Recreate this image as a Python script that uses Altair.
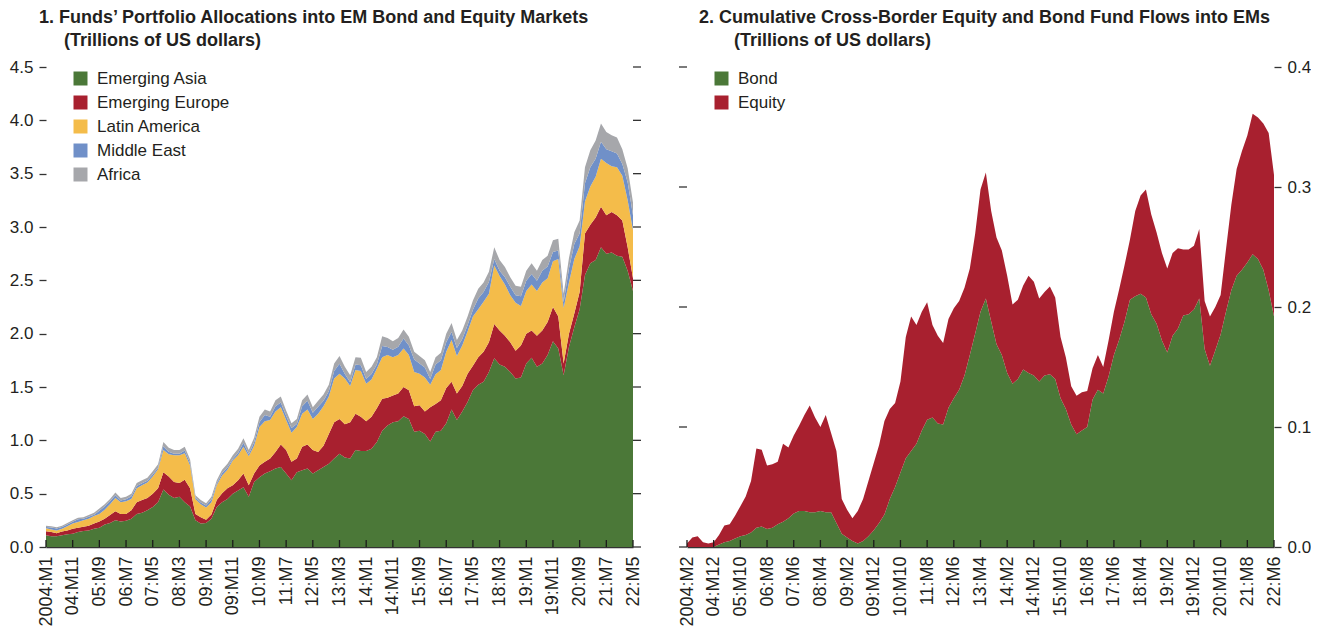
import altair as alt
import pandas as pd
import numpy as np

# ---------------- shared categories ----------------
left_tick_labels = ["2004:M1", "04:M11", "05:M9", "06:M7", "07:M5", "08:M3", "09:M1", "09:M11",
                    "10:M9", "11:M7", "12:M5", "13:M3", "14:M1", "14:M11", "15:M9", "16:M7",
                    "17:M5", "18:M3", "19:M1", "19:M11", "20:M9", "21:M7", "22:M5"]
right_tick_labels = ["2004:M2", "04:M12", "05:M10", "06:M8", "07:M6", "08:M4", "09:M2", "09:M12",
                     "10:M10", "11:M8", "12:M6", "13:M4", "14:M2", "14:M12", "15:M10", "16:M8",
                     "17:M6", "18:M4", "19:M2", "19:M12", "20:M10", "21:M8", "22:M6"]
months = list(range(0, 221, 2))          # months since first observation (bimonthly readings)
tick_months = list(range(0, 221, 10))

regions = ["Emerging Asia", "Emerging Europe", "Latin America", "Middle East", "Africa"]
region_colors = ["#4B7838", "#A8202F", "#F4BC4A", "#7090C8", "#A6A7AB"]
flow_types = ["Bond", "Equity"]
flow_colors = ["#4B7838", "#A8202F"]

# ---------------- panel 1: upper edges of stacked layers (trillions US$) ----------------
asia_top = [0.11, 0.10, 0.10, 0.11, 0.12, 0.125, 0.14, 0.15, 0.155, 0.17,
            0.18, 0.21, 0.225, 0.25, 0.24, 0.245, 0.265, 0.31, 0.32, 0.345,
            0.375, 0.42, 0.54, 0.49, 0.46, 0.47, 0.42, 0.38, 0.25, 0.22,
            0.225, 0.265, 0.375, 0.42, 0.45, 0.50, 0.53, 0.56, 0.47, 0.61,
            0.655, 0.69, 0.71, 0.735, 0.75, 0.69, 0.625, 0.70, 0.72, 0.735,
            0.69, 0.72, 0.75, 0.78, 0.83, 0.875, 0.84, 0.83, 0.91, 0.90,
            0.90, 0.92, 0.985, 1.09, 1.14, 1.17, 1.18, 1.225, 1.20, 1.08,
            1.09, 1.06, 0.99, 1.08, 1.09, 1.16, 1.29, 1.19, 1.27, 1.36,
            1.47, 1.52, 1.55, 1.64, 1.77, 1.71, 1.69, 1.64, 1.58, 1.59,
            1.72, 1.775, 1.69, 1.72, 1.80, 1.93, 1.86, 1.61, 1.875, 2.06,
            2.23, 2.55, 2.66, 2.69, 2.81, 2.75, 2.76, 2.73, 2.72, 2.59,
            2.40]
europe_top = [0.147, 0.14, 0.13, 0.145, 0.155, 0.17, 0.18, 0.19, 0.20, 0.22,
              0.24, 0.265, 0.30, 0.335, 0.31, 0.31, 0.345, 0.42, 0.44, 0.46,
              0.50, 0.55, 0.70, 0.66, 0.61, 0.60, 0.63, 0.55, 0.31, 0.28,
              0.255, 0.305, 0.44, 0.505, 0.55, 0.58, 0.625, 0.69, 0.58, 0.69,
              0.765, 0.80, 0.83, 0.89, 0.96, 0.91, 0.80, 0.83, 0.94, 0.96,
              0.91, 0.89, 0.95, 1.06, 1.17, 1.20, 1.15, 1.17, 1.25, 1.22,
              1.18, 1.22, 1.30, 1.39, 1.40, 1.42, 1.44, 1.50, 1.47, 1.32,
              1.33, 1.27, 1.31, 1.34, 1.375, 1.49, 1.55, 1.44, 1.51, 1.625,
              1.70, 1.78, 1.83, 1.92, 2.09, 2.03, 1.98, 1.92, 1.84, 1.89,
              2.0, 2.03, 1.98, 2.03, 2.11, 2.25, 2.16, 1.72, 2.0, 2.19,
              2.39, 2.94, 3.02, 3.09, 3.19, 3.11, 3.14, 3.11, 3.06, 2.81,
              2.52]
latam_top = [0.175, 0.165, 0.155, 0.17, 0.195, 0.22, 0.235, 0.25, 0.265, 0.29,
             0.31, 0.35, 0.40, 0.46, 0.42, 0.43, 0.45, 0.55, 0.58, 0.605,
             0.66, 0.73, 0.91, 0.87, 0.86, 0.86, 0.88, 0.765, 0.45, 0.40,
             0.37, 0.42, 0.58, 0.67, 0.725, 0.81, 0.86, 0.94, 0.85, 0.95,
             1.125, 1.18, 1.19, 1.27, 1.31, 1.19, 1.07, 1.125, 1.25, 1.29,
             1.20, 1.25, 1.32, 1.41, 1.58, 1.625, 1.58, 1.51, 1.66, 1.65,
             1.53, 1.57, 1.67, 1.78, 1.80, 1.78, 1.80, 1.86, 1.80, 1.64,
             1.625, 1.59, 1.52, 1.62, 1.66, 1.83, 1.94, 1.79, 1.89, 2.02,
             2.16, 2.23, 2.30, 2.375, 2.64, 2.54, 2.46, 2.36, 2.29, 2.26,
             2.40, 2.46, 2.40, 2.48, 2.52, 2.68, 2.70, 2.24, 2.48, 2.70,
             2.82, 3.24, 3.38, 3.47, 3.64, 3.60, 3.57, 3.56, 3.48, 3.25,
             2.97]
total_top = [0.20, 0.195, 0.185, 0.20, 0.225, 0.25, 0.275, 0.28, 0.30, 0.32,
             0.36, 0.40, 0.45, 0.51, 0.46, 0.47, 0.50, 0.60, 0.625, 0.65,
             0.71, 0.775, 0.985, 0.93, 0.91, 0.91, 0.94, 0.82, 0.485, 0.44,
             0.41, 0.47, 0.625, 0.725, 0.78, 0.86, 0.92, 1.02, 0.91, 1.025,
             1.22, 1.29, 1.27, 1.375, 1.41, 1.28, 1.16, 1.20, 1.375, 1.43,
             1.31, 1.37, 1.43, 1.52, 1.72, 1.79, 1.69, 1.61, 1.78, 1.775,
             1.64, 1.69, 1.78, 1.975, 1.96, 1.93, 1.96, 2.04, 1.97, 1.83,
             1.79, 1.75, 1.64, 1.78, 1.82, 2.0, 2.10, 1.94, 2.03, 2.16,
             2.31, 2.42, 2.48, 2.58, 2.81, 2.69, 2.625, 2.53, 2.45, 2.44,
             2.59, 2.66, 2.59, 2.69, 2.73, 2.875, 2.89, 2.375, 2.71, 2.95,
             3.06, 3.56, 3.72, 3.81, 3.97, 3.89, 3.86, 3.84, 3.73, 3.55,
             3.23]
africa_band = [0.012, 0.012, 0.012, 0.013, 0.013, 0.014, 0.015, 0.015, 0.016, 0.017,
               0.02, 0.02, 0.022, 0.025, 0.023, 0.023, 0.024, 0.027, 0.028, 0.03,
               0.03, 0.032, 0.04, 0.036, 0.035, 0.035, 0.036, 0.032, 0.022, 0.022,
               0.022, 0.025, 0.03, 0.032, 0.034, 0.036, 0.038, 0.042, 0.04, 0.042,
               0.05, 0.052, 0.05, 0.055, 0.056, 0.05, 0.045, 0.048, 0.055, 0.058,
               0.052, 0.055, 0.058, 0.06, 0.07, 0.072, 0.068, 0.065, 0.07, 0.07,
               0.066, 0.068, 0.07, 0.09, 0.085, 0.08, 0.082, 0.085, 0.08, 0.072,
               0.07, 0.068, 0.065, 0.07, 0.07, 0.08, 0.085, 0.075, 0.08, 0.082,
               0.085, 0.09, 0.09, 0.095, 0.11, 0.1, 0.095, 0.09, 0.09, 0.09,
               0.095, 0.1, 0.095, 0.1, 0.1, 0.11, 0.11, 0.08, 0.1, 0.11,
               0.12, 0.15, 0.16, 0.17, 0.17, 0.16, 0.15, 0.15, 0.14, 0.13,
               0.12]

# ---------------- panel 2: bond and bond+equity cumulative flows (trillions US$) ----------------
bond_flows = [0.0, 0.0, 0.0, 0.0, 0.0, 0.0, 0.002, 0.004, 0.005, 0.007,
              0.009, 0.010, 0.012, 0.016, 0.017, 0.015, 0.016, 0.019, 0.021, 0.024,
              0.028, 0.030, 0.030, 0.029, 0.029, 0.030, 0.029, 0.029, 0.020, 0.011,
              0.008, 0.005, 0.003, 0.005, 0.009, 0.014, 0.020, 0.027, 0.040, 0.050,
              0.062, 0.074, 0.080, 0.086, 0.097, 0.106, 0.108, 0.103, 0.102, 0.116,
              0.124, 0.131, 0.143, 0.160, 0.178, 0.196, 0.207, 0.188, 0.169, 0.160,
              0.145, 0.136, 0.140, 0.148, 0.145, 0.143, 0.138, 0.143, 0.144, 0.140,
              0.124, 0.115, 0.102, 0.094, 0.097, 0.100, 0.123, 0.131, 0.128, 0.142,
              0.160, 0.173, 0.188, 0.206, 0.209, 0.211, 0.208, 0.194, 0.186, 0.172,
              0.162, 0.176, 0.182, 0.193, 0.194, 0.198, 0.207, 0.165, 0.151, 0.164,
              0.177, 0.196, 0.214, 0.226, 0.231, 0.237, 0.244, 0.240, 0.231, 0.214,
              0.192]
all_flows = [0.003, 0.008, 0.009, 0.004, 0.003, 0.004, 0.010, 0.018, 0.019, 0.026,
             0.034, 0.042, 0.055, 0.082, 0.081, 0.068, 0.069, 0.071, 0.086, 0.083,
             0.093, 0.101, 0.110, 0.118, 0.108, 0.100, 0.110, 0.095, 0.080, 0.040,
             0.031, 0.024, 0.030, 0.040, 0.055, 0.070, 0.085, 0.105, 0.115, 0.120,
             0.138, 0.175, 0.192, 0.185, 0.196, 0.204, 0.185, 0.176, 0.170, 0.190,
             0.199, 0.205, 0.216, 0.232, 0.261, 0.298, 0.312, 0.280, 0.258, 0.247,
             0.226, 0.202, 0.206, 0.218, 0.226, 0.221, 0.207, 0.2125, 0.217, 0.208,
             0.175, 0.158, 0.134, 0.126, 0.129, 0.130, 0.149, 0.160, 0.150, 0.172,
             0.196, 0.215, 0.235, 0.256, 0.280, 0.293, 0.298, 0.277, 0.262, 0.245,
             0.232, 0.245, 0.249, 0.248, 0.248, 0.251, 0.265, 0.205, 0.192, 0.200,
             0.210, 0.248, 0.285, 0.315, 0.330, 0.343, 0.361, 0.358, 0.353, 0.345,
             0.310]

left_yticks = [0.0, 0.5, 1.0, 1.5, 2.0, 2.5, 3.0, 3.5, 4.0, 4.5]
right_yticks = [0.0, 0.1, 0.2, 0.3, 0.4]

# ---------------- tables ----------------
a_top = np.array(asia_top)
e_top = np.array(europe_top)
l_top = np.array(latam_top)
t_top = np.array(total_top)
afr = np.array(africa_band)
series_left = [a_top,
               np.clip(e_top - a_top, 0, None),
               np.clip(l_top - e_top, 0, None),
               np.clip(t_top - l_top - afr, 0, None),
               afr]
rows = []
for k, (name, vals) in enumerate(zip(regions, series_left)):
    for m, v in zip(months, vals):
        rows.append({"t": m, "value": float(v), "series": name, "k": k})
df_left = pd.DataFrame(rows)

b = np.array(bond_flows)
eq = np.clip(np.array(all_flows) - b, 0, None)
rows = []
for k, (name, vals) in enumerate(zip(flow_types, [b, eq])):
    for m, v in zip(months, vals):
        rows.append({"t": m, "value": float(v), "series": name, "k": k})
df_right = pd.DataFrame(rows)

xt_df = pd.DataFrame({"t": tick_months})

# ---------------- styling ----------------
W, H = 587, 480
REG = "Liberation Sans, Arial, sans-serif"
INK = "#231F20"
TICK = "#333333"


def js_array(labels):
    return "[" + ",".join("'" + s + "'" for s in labels) + "]"


def x_enc(labels):
    return alt.X("t:Q",
                 scale=alt.Scale(domain=[0, 220], nice=False, zero=False),
                 axis=alt.Axis(values=tick_months,
                               labelExpr=js_array(labels) + "[round(datum.value/10)]",
                               labelAngle=270, labelAlign="right", labelBaseline="middle",
                               labelFont=REG, labelFontSize=18, labelColor=INK,
                               labelPadding=9, ticks=False, domain=True,
                               domainColor=TICK, domainWidth=1.6, grid=False,
                               labelOverlap=False, title=None))


def y_enc(field, domain, ticks, orient):
    return alt.Y(field,
                 scale=alt.Scale(domain=domain, nice=False, zero=True),
                 stack=None if field != "value:Q" else "zero",
                 axis=alt.Axis(values=ticks, format=".1f", orient=orient,
                               tickSize=7, tickColor=TICK, tickWidth=1.3,
                               domain=False, grid=False,
                               labelFont=REG, labelFontSize=17, labelColor=INK,
                               labelPadding=6, title=None,
                               minExtent=35, maxExtent=35))


def legend(dom):
    return alt.Legend(title=None, orient="none", legendX=26, legendY=3,
                      symbolType="square", symbolSize=196, symbolStrokeWidth=0,
                      labelFont=REG, labelFontSize=17, labelColor=INK,
                      labelOffset=8, rowPadding=6, padding=0, values=dom)


def title(line1, indent, dx):
    return alt.TitleParams(text=[line1, "\u200b" + "\u00a0" * indent + "(Trillions of US dollars)"],
                           anchor="start", frame="group", font=REG, fontSize=18,
                           fontWeight="bold", color=INK, lineHeight=23, dx=dx,
                           offset=8, baseline="top")


def panel(df, labels, domain, ticks, orient, dom, colors, ttl):
    xe = x_enc(labels)
    area = alt.Chart(df).mark_area(interpolate="linear").encode(
        x=xe,
        y=y_enc("value:Q", domain, ticks, orient),
        color=alt.Color("series:N", scale=alt.Scale(domain=dom, range=colors),
                        legend=legend(dom)),
        order=alt.Order("k:Q", sort="ascending"),
    )
    inner = alt.Chart(xt_df).mark_rule(color="#1a1a1a", strokeWidth=1.3).encode(
        x=xe, y=alt.value(H), y2=alt.value(H - 7))
    ytdf = pd.DataFrame({"v": ticks})
    if orient == "left":
        side = alt.Chart(ytdf).mark_rule(color=TICK, strokeWidth=1.3).encode(
            y=y_enc("v:Q", domain, ticks, orient), x=alt.value(W), x2=alt.value(W + 8))
    else:
        side = alt.Chart(ytdf).mark_rule(color=TICK, strokeWidth=1.3).encode(
            y=y_enc("v:Q", domain, ticks, orient), x=alt.value(-8), x2=alt.value(0))
    return alt.layer(area, inner, side).properties(width=W, height=H, title=ttl)


left = panel(df_left, left_tick_labels, [0, 4.5], left_yticks, "left", regions, region_colors,
             title("1. Funds\u2019 Portfolio Allocations into EM Bond and Equity Markets", 5, -7))
right = panel(df_right, right_tick_labels, [0, 0.4], right_yticks, "right", flow_types, flow_colors,
              title("2. Cumulative Cross-Border Equity and Bond Fund Flows into EMs", 7, 12))

chart = alt.hconcat(left, right, spacing=36).resolve_scale(color="independent").properties(
    padding={"left": 1, "top": 1, "right": 0, "bottom": 0},
    background="white",
).configure_view(stroke=None)

chart.save("out.html", embed_options={"renderer": "svg", "actions": False})
